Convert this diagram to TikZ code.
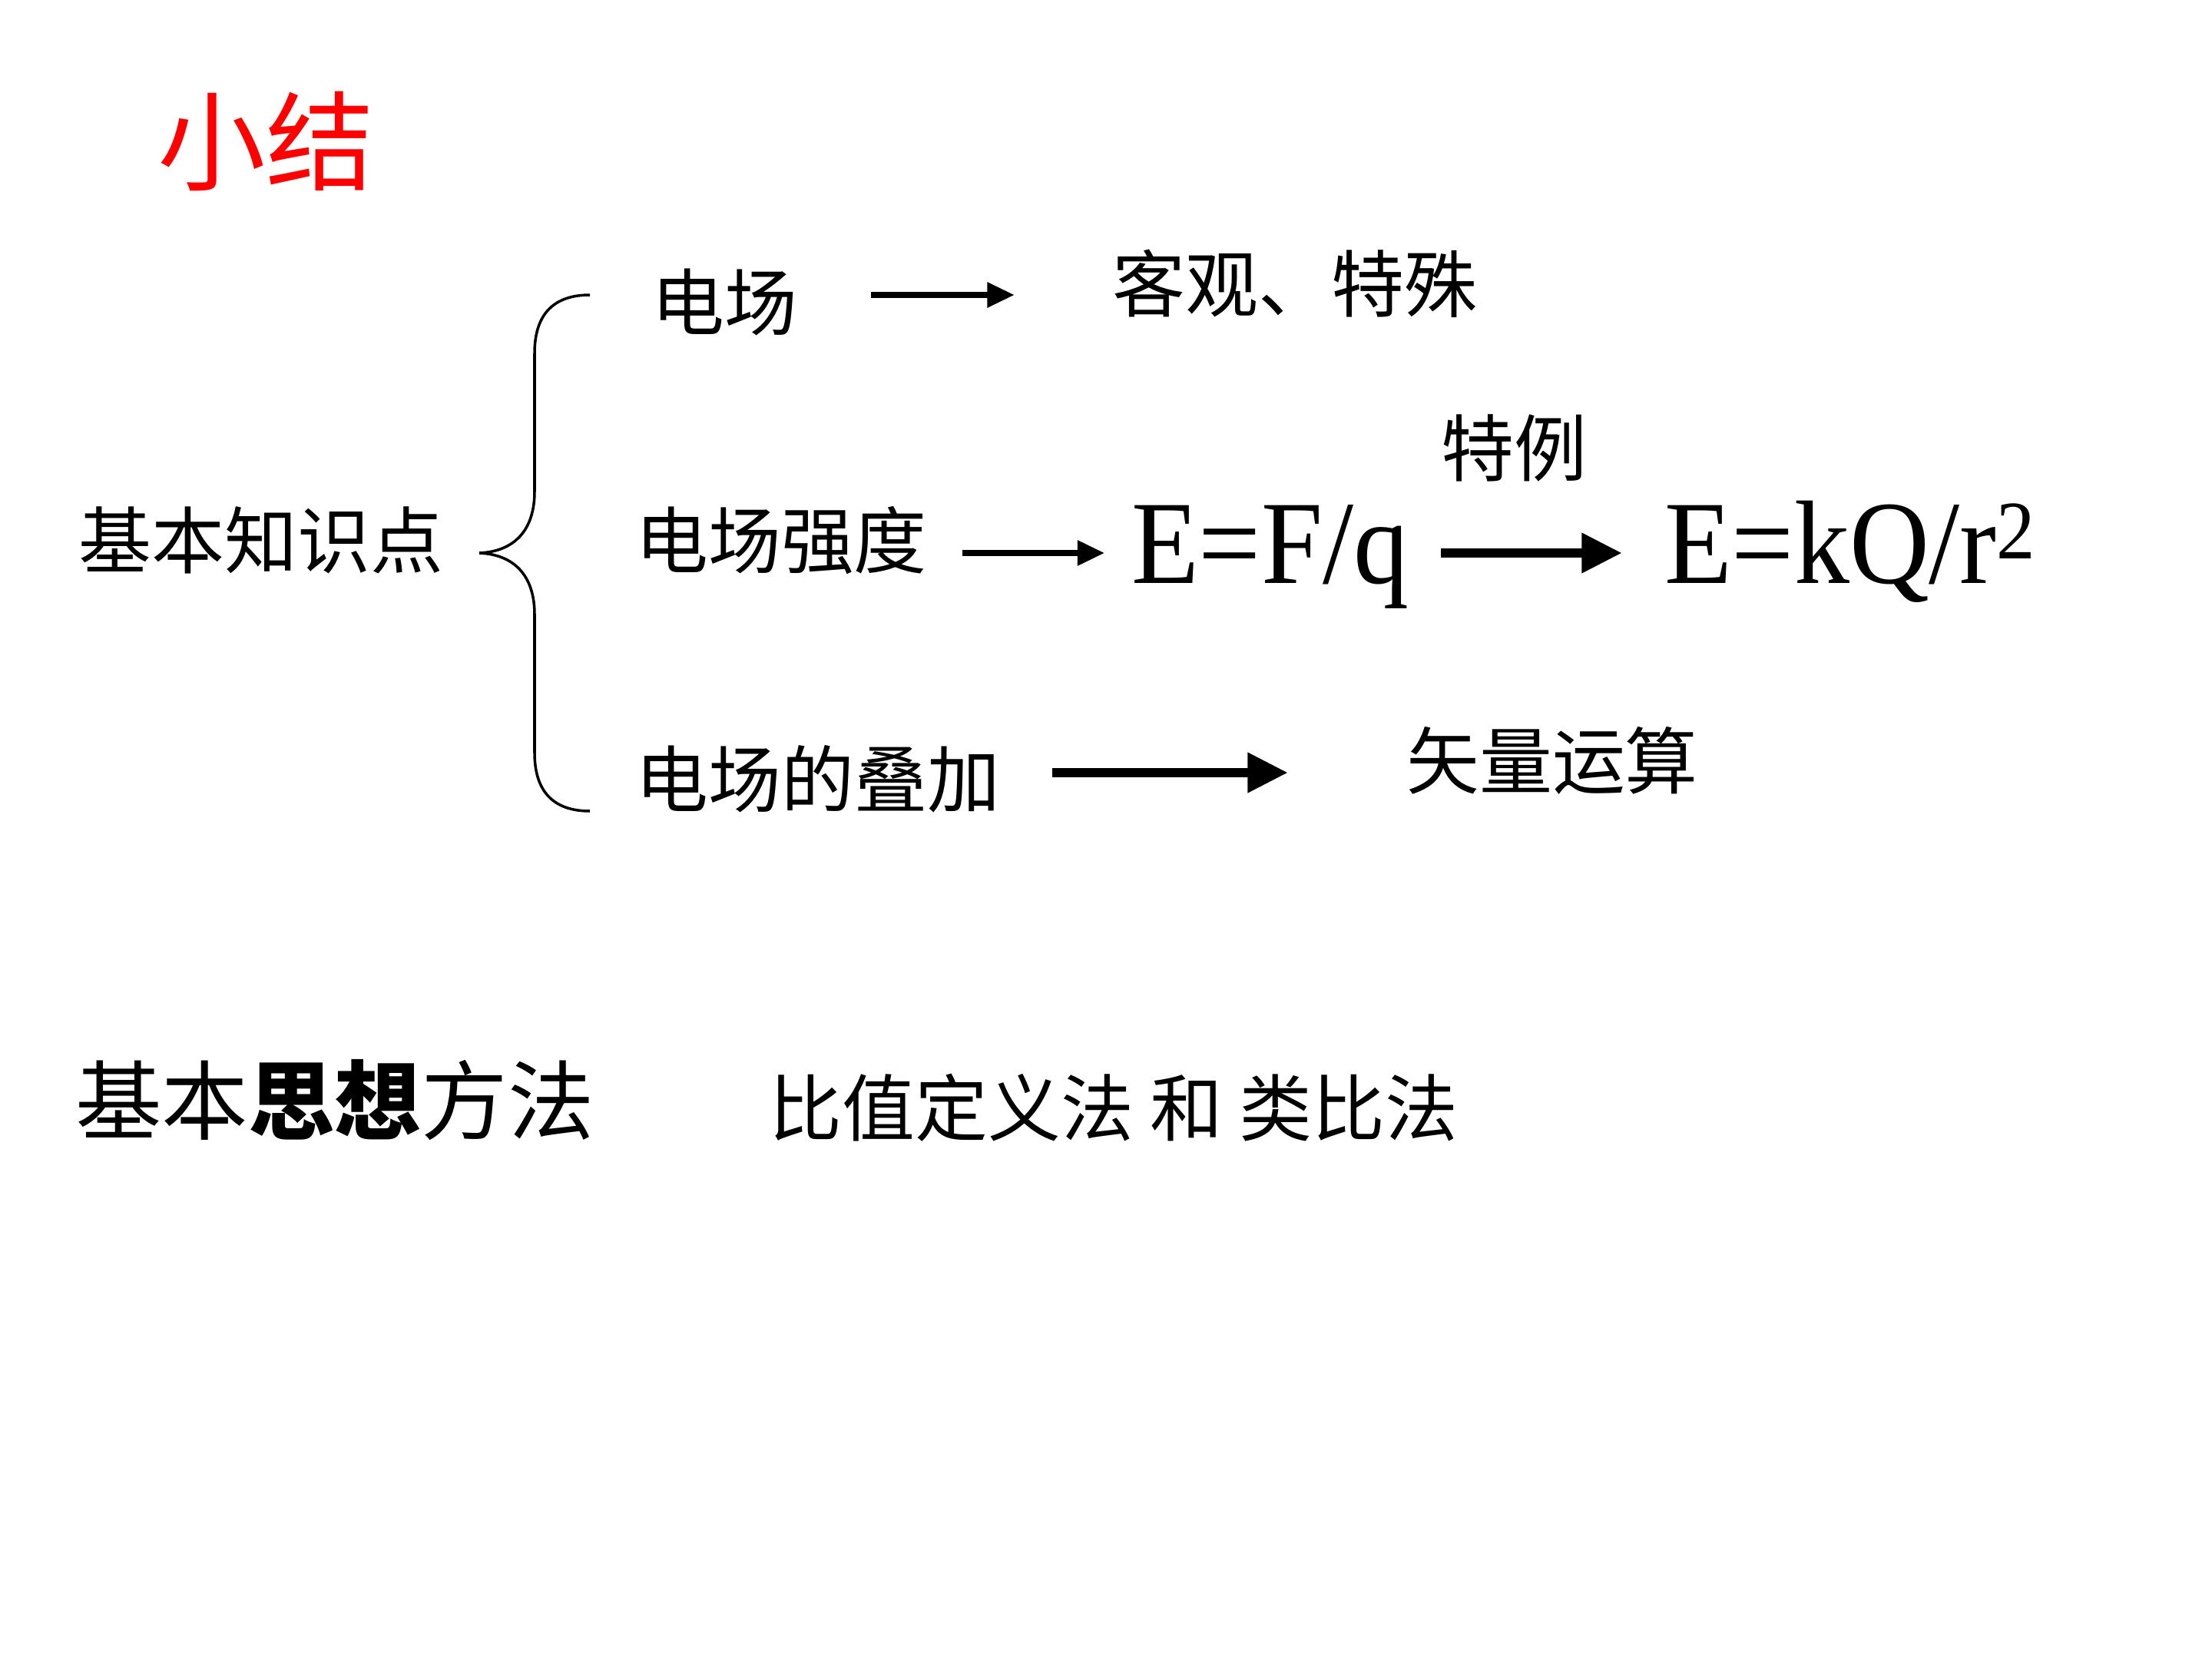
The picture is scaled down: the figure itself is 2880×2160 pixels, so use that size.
\documentclass[tikz,border=0pt]{standalone}
\usepackage{fontspec}
\setmainfont{Liberation Serif}
\newfontfamily\cjk{Noto Sans CJK SC}
\usetikzlibrary{arrows.meta}
\tikzset{
  cn/.style={inner sep=0pt, outer sep=0pt, font=\cjk\fontsize{27pt}{30pt}\selectfont},
  fm/.style={inner sep=0pt, outer sep=0pt, font=\fontsize{44pt}{48pt}\selectfont},
  thinarr/.style={line width=2pt, -{Triangle[length=10pt,width=9pt]}},
  thickarr/.style={line width=3.6pt, -{Triangle[length=15pt,width=14pt]}},
  bracestyle/.style={line width=1pt}
}
\begin{document}
\begin{tikzpicture}[x=0.01cm,y=-0.01cm]
\useasboundingbox[fill=white] (0,0) rectangle (2880,2160);
% title
\node[cn, font=\cjk\fontsize{40pt}{44pt}\selectfont, text=red] (title) at (346,184) {小结};
% left label
\node[cn] (jb) at (340,703) {基本知识点};
% brace
\draw[bracestyle] (768,384) .. controls (720,384) and (696,410) .. (696,460) -- (696,640)
  .. controls (696,690) and (670,718) .. (624,720)
  .. controls (670,722) and (696,750) .. (696,800) -- (696,980)
  .. controls (696,1030) and (720,1056) .. (768,1056);
% row 1
\node[cn] (dc) at (943,393) {电场};
\node[cn] (kg) at (1686,369) {客观、特殊};
\draw[thinarr] ([shift={(96,-9)}]dc.east) -- ([shift={(-128,15)}]kg.west);
% row 2
\node[cn] (tl) at (1971,583) {特例};
\node[cn] (qd) at (1017,704) {电场强度};
\node[fm, anchor=base west] (f1) at (1473,759) {\scalebox{0.93}[1]{E=F/q}};
\node[fm, anchor=base west] (f2) at (2167,759) {\scalebox{0.93}[1]{E=kQ/r\textsuperscript{2}}};
\draw[thinarr] ([shift={(46,16)}]qd.east) -- ([shift={(-35,-39)}]f1.base west);
\draw[thickarr] ([shift={(42,-39)}]f1.base east) -- ([shift={(-55,-39)}]f2.base west);
% row 3
\node[cn] (dj) at (1065,1014) {电场的叠加};
\node[cn] (sl) at (2021,990) {矢量运算};
\draw[thickarr] ([shift={(68,-8)}]dj.east) -- ([shift={(-154,16)}]sl.west);
% bottom
\node[cn, font=\cjk\fontsize{32pt}{36pt}\selectfont] (sx) at (436,1432) {基本{\bfseries 思想}方法};
\node[cn] (bz) at (1450,1442) {比值定义法 和 类比法};
\end{tikzpicture}
\end{document}
